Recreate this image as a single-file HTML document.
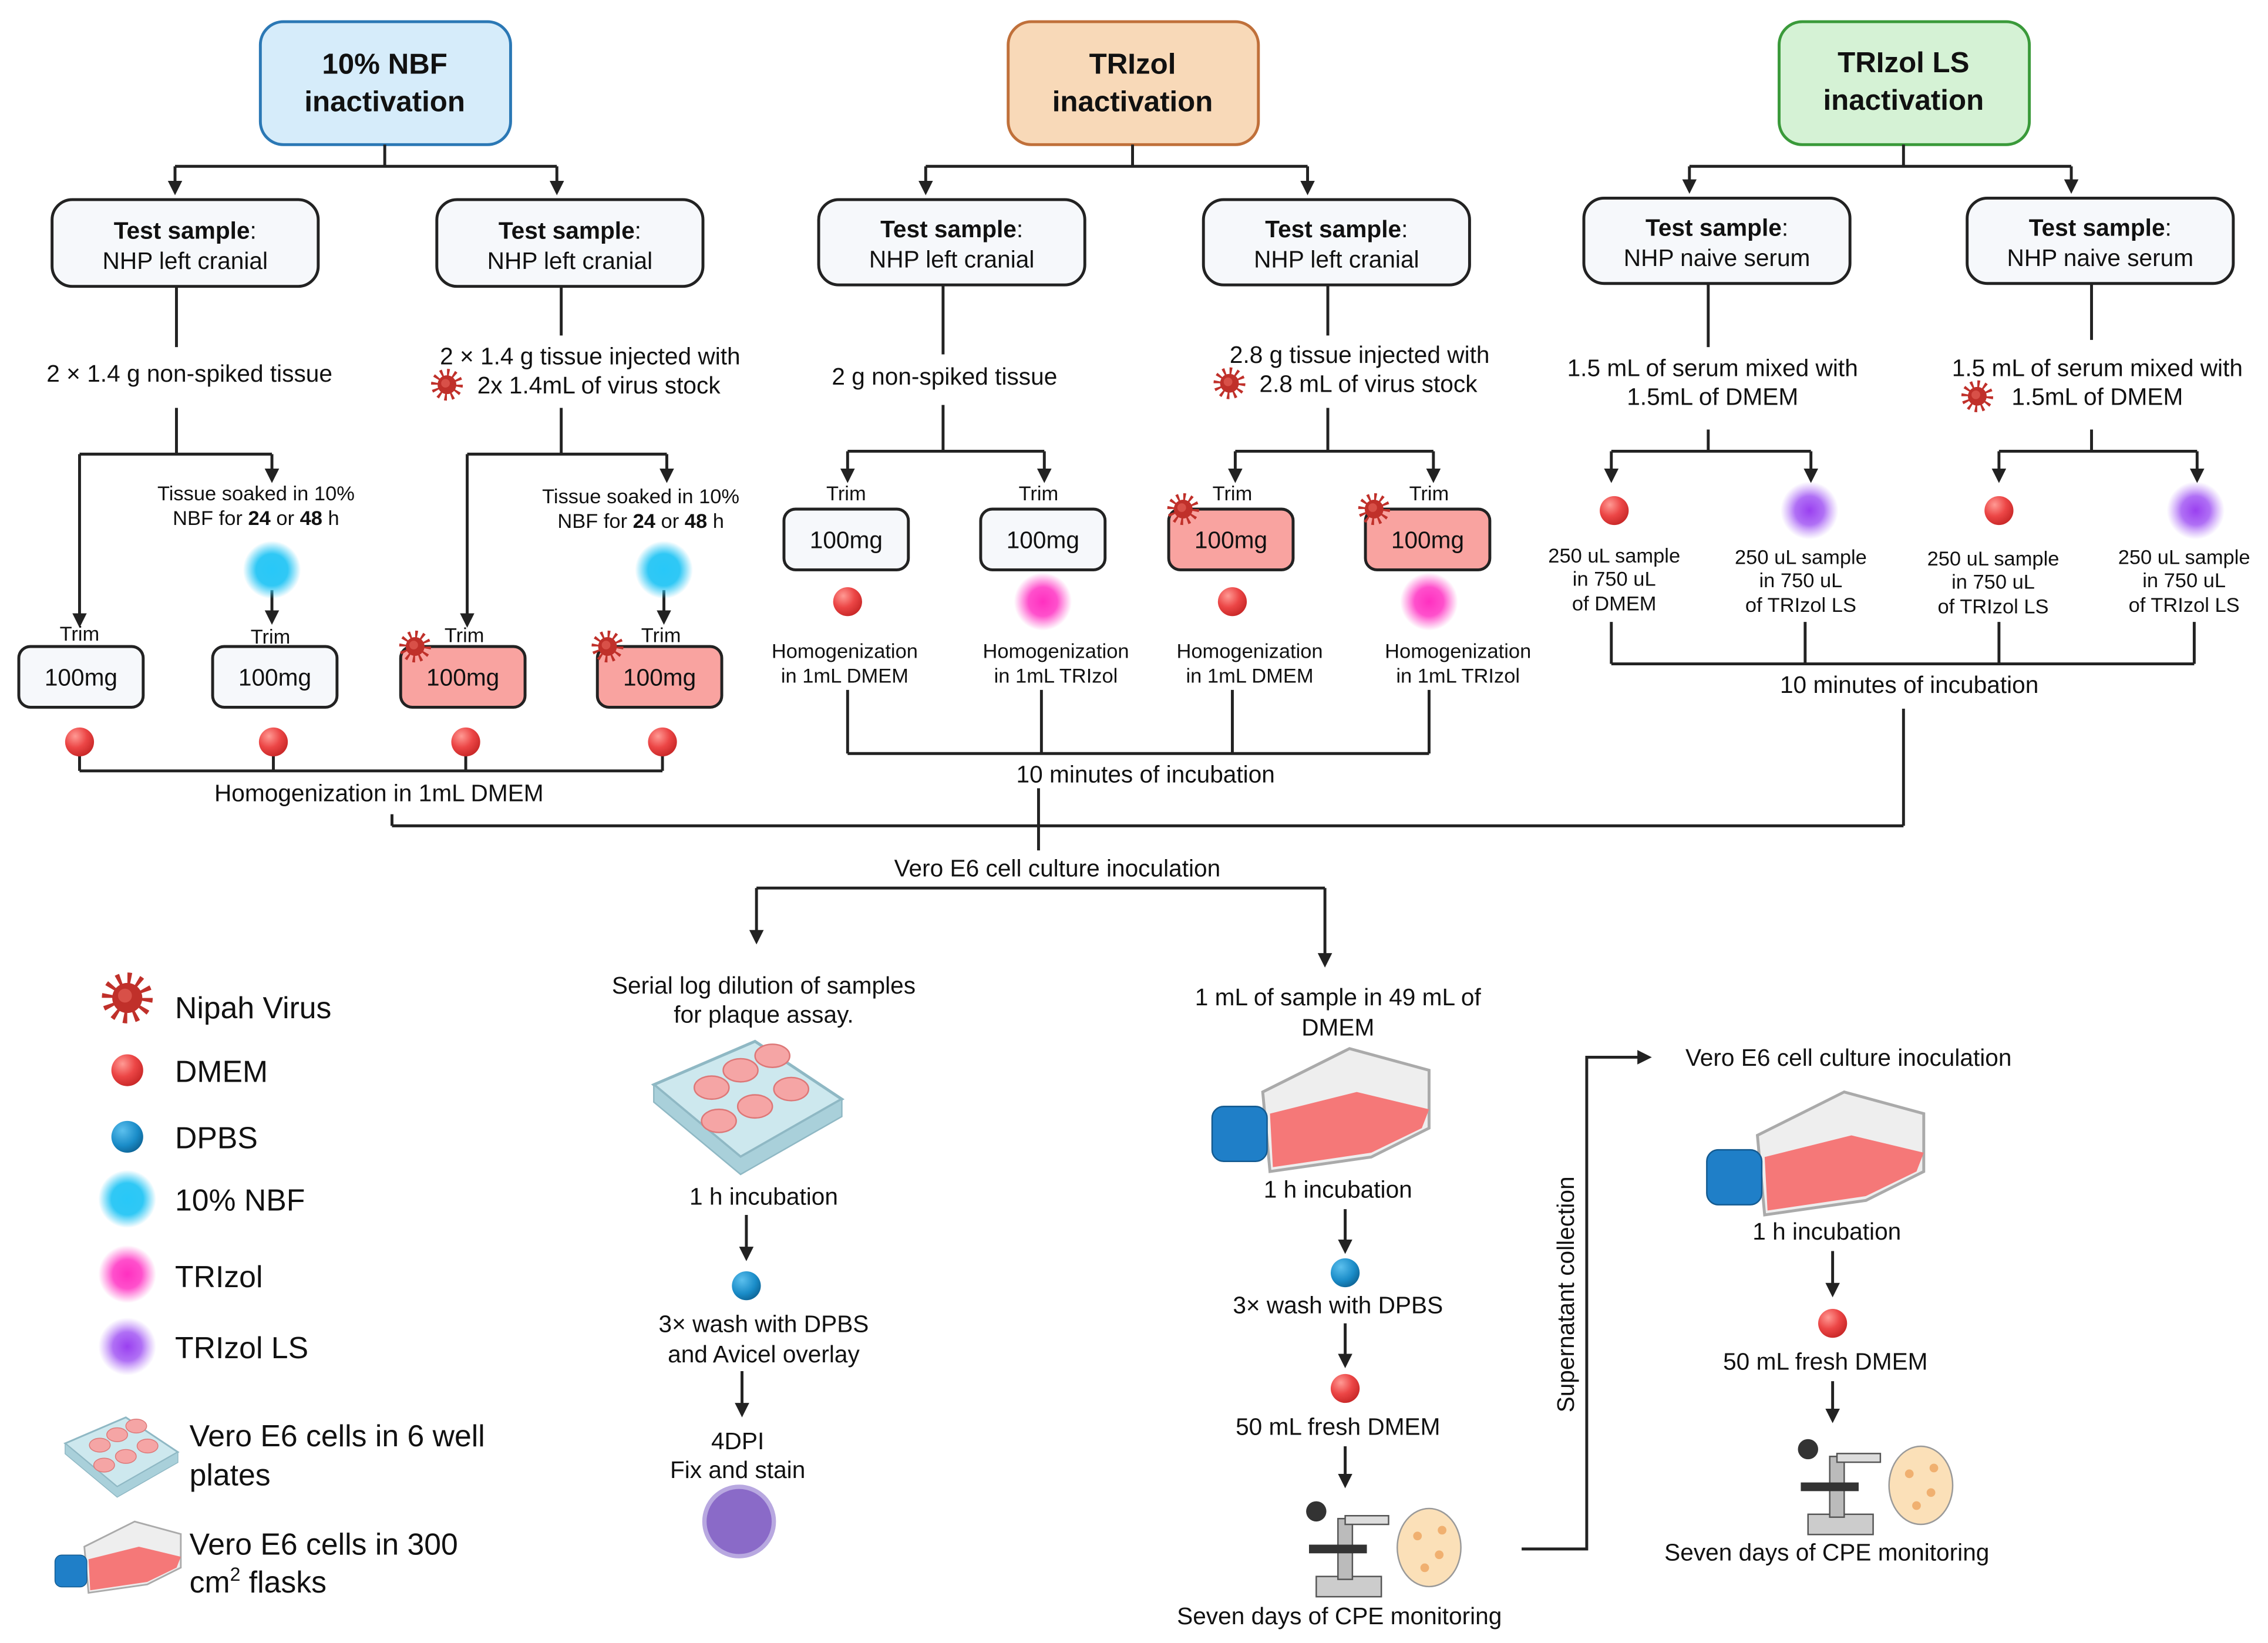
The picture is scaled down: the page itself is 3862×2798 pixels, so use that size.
<!DOCTYPE html>
<html><head><meta charset="utf-8"><style>
html,body{margin:0;padding:0;background:#fff;}
svg{display:block;}
text{font-family:"Liberation Sans",sans-serif;fill:#111;}
</style></head><body>
<svg xmlns="http://www.w3.org/2000/svg" width="3862" height="2798" viewBox="0 0 1568 1136">
<defs>
<radialGradient id="rd" cx="0.35" cy="0.3" r="0.8"><stop offset="0" stop-color="#ff9a94"/><stop offset="0.5" stop-color="#ec4646"/><stop offset="1" stop-color="#c22222"/></radialGradient>
<radialGradient id="bd" cx="0.35" cy="0.3" r="0.8"><stop offset="0" stop-color="#5cc0ee"/><stop offset="0.6" stop-color="#1a8cc8"/><stop offset="1" stop-color="#0c5e8e"/></radialGradient>
<radialGradient id="cy"><stop offset="0" stop-color="#28c8f8"/><stop offset="0.55" stop-color="#30c8f5"/><stop offset="1" stop-color="#30c8f5" stop-opacity="0"/></radialGradient>
<radialGradient id="mg"><stop offset="0" stop-color="#ff30c0"/><stop offset="0.5" stop-color="#ff50cc"/><stop offset="1" stop-color="#ff60d0" stop-opacity="0"/></radialGradient>
<radialGradient id="pu"><stop offset="0" stop-color="#9a40f0"/><stop offset="0.5" stop-color="#b070f5"/><stop offset="1" stop-color="#c090f8" stop-opacity="0"/></radialGradient>
<marker id="ar" markerWidth="10" markerHeight="10" refX="8" refY="5" orient="auto" markerUnits="userSpaceOnUse"><path d="M0,0 L10,5 L0,10 z" fill="#222"/></marker>
<g id="vir"><circle r="8.5" fill="none" stroke="#c0302a" stroke-width="5" stroke-dasharray="1.6 2.85"/><circle r="6.5" fill="#c0302a"/><circle r="3" cx="-1" cy="-1" fill="#d85048"/></g>
<g id="rdot"><circle r="10" fill="url(#rd)"/></g>
<g id="bdot"><circle r="10" fill="url(#bd)"/></g>
<g id="plate"><path d="M0,30 L70,0 L130,40 L60,80 Z" fill="#cde8ee" stroke="#8fb8c4" stroke-width="2"/><path d="M0,30 L0,42 L60,92 L130,52 L130,40 L60,80 Z" fill="#a9d0da" stroke="#8fb8c4"/>
<ellipse cx="40" cy="32" rx="12" ry="8" fill="#f5a5a5" stroke="#d77"/><ellipse cx="60" cy="20" rx="12" ry="8" fill="#f5a5a5" stroke="#d77"/><ellipse cx="82" cy="10" rx="12" ry="8" fill="#f5a5a5" stroke="#d77"/>
<ellipse cx="45" cy="55" rx="12" ry="8" fill="#f5a5a5" stroke="#d77"/><ellipse cx="70" cy="45" rx="12" ry="8" fill="#f5a5a5" stroke="#d77"/><ellipse cx="95" cy="33" rx="12" ry="8" fill="#f5a5a5" stroke="#d77"/></g>
<g id="flask"><path d="M35,30 L95,0 L150,15 L150,55 L110,75 L40,85 Z" fill="#eee" stroke="#aaa" stroke-width="2"/><path d="M40,45 L100,30 L150,42 L145,55 L110,72 L42,82 Z" fill="#f57878"/><rect x="0" y="40" width="38" height="38" rx="8" fill="#1f7fc8" stroke="#135a90"/></g>
<g id="scope"><rect x="10" y="50" width="45" height="14" fill="#ccc" stroke="#555"/><rect x="25" y="10" width="10" height="42" fill="#bbb" stroke="#555"/><rect x="5" y="28" width="40" height="6" fill="#333"/><circle cx="10" cy="5" r="7" fill="#333"/><rect x="30" y="8" width="30" height="6" fill="#ddd" stroke="#555"/><ellipse cx="88" cy="30" rx="22" ry="27" fill="#fbe0b8" stroke="#999"/><circle cx="80" cy="22" r="3" fill="#f0b070"/><circle cx="95" cy="35" r="3" fill="#f0b070"/><circle cx="85" cy="44" r="3" fill="#f0b070"/><circle cx="97" cy="18" r="3" fill="#f0b070"/></g>
</defs>
<g stroke="#222" stroke-width="2" fill="none">
<!-- header boxes -->
<rect x="180" y="15" width="173" height="85" rx="16" fill="#d6ecfa" stroke="#2b78b5"/>
<rect x="697" y="15" width="173" height="85" rx="16" fill="#f8d9b8" stroke="#c0703a"/>
<rect x="1230" y="15" width="173" height="85" rx="16" fill="#d5f2d5" stroke="#3a9a3a"/>
<!-- test sample boxes -->
<rect x="36" y="138" width="184" height="60" rx="14" fill="#f6f8fb"/>
<rect x="302" y="138" width="184" height="60" rx="14" fill="#f6f8fb"/>
<rect x="566" y="138" width="184" height="59" rx="14" fill="#f6f8fb"/>
<rect x="832" y="138" width="184" height="59" rx="14" fill="#f6f8fb"/>
<rect x="1095" y="137" width="184" height="59" rx="14" fill="#f6f8fb"/>
<rect x="1360" y="137" width="184" height="59" rx="14" fill="#f6f8fb"/>
<!-- 100mg boxes -->
<rect x="13" y="447" width="86" height="42" rx="8" fill="#f6f8fb"/>
<rect x="147" y="447" width="86" height="42" rx="8" fill="#f6f8fb"/>
<rect x="277" y="447" width="86" height="42" rx="8" fill="#f9a3a0"/>
<rect x="413" y="447" width="86" height="42" rx="8" fill="#f9a3a0"/>
<rect x="542" y="352" width="86" height="42" rx="8" fill="#f6f8fb"/>
<rect x="678" y="352" width="86" height="42" rx="8" fill="#f6f8fb"/>
<rect x="808" y="352" width="86" height="42" rx="8" fill="#f9a3a0"/>
<rect x="944" y="352" width="86" height="42" rx="8" fill="#f9a3a0"/>
<!-- NBF lines -->
<path d="M266,100 V115 M121,115 H385"/>
<path d="M121,115 V133" marker-end="url(#ar)"/><path d="M385,115 V133" marker-end="url(#ar)"/>
<path d="M122,198 V240 M122,282 V314 M55,314 H188"/>
<path d="M55,314 V432" marker-end="url(#ar)"/><path d="M188,314 V332" marker-end="url(#ar)"/>
<path d="M188,408 V430" marker-end="url(#ar)"/>
<path d="M388,198 V232 M388,282 V314 M323,314 H461"/>
<path d="M323,314 V432" marker-end="url(#ar)"/><path d="M461,314 V332" marker-end="url(#ar)"/>
<path d="M459,408 V430" marker-end="url(#ar)"/>
<path d="M55,520 V533 M189,520 V533 M322,520 V533 M458,520 V533 M55,533 H458"/>
<!-- TRIzol lines -->
<path d="M783,100 V115 M640,115 H904"/>
<path d="M640,115 V133" marker-end="url(#ar)"/><path d="M904,115 V133" marker-end="url(#ar)"/>
<path d="M652,197 V245 M652,280 V312 M586,312 H722"/>
<path d="M586,312 V332" marker-end="url(#ar)"/><path d="M722,312 V332" marker-end="url(#ar)"/>
<path d="M918,197 V232 M918,282 V312 M854,312 H991"/>
<path d="M854,312 V332" marker-end="url(#ar)"/><path d="M991,312 V332" marker-end="url(#ar)"/>
<path d="M586,477 V521 M720,477 V521 M852,477 V521 M988,477 V521 M586,521 H988"/>
<!-- LS lines -->
<path d="M1316,100 V115 M1168,115 H1432"/>
<path d="M1168,115 V132" marker-end="url(#ar)"/><path d="M1432,115 V132" marker-end="url(#ar)"/>
<path d="M1181,196 V240 M1181,297 V312 M1114,312 H1252"/>
<path d="M1114,312 V332" marker-end="url(#ar)"/><path d="M1252,312 V332" marker-end="url(#ar)"/>
<path d="M1446,196 V235 M1446,297 V312 M1382,312 H1519"/>
<path d="M1382,312 V332" marker-end="url(#ar)"/><path d="M1519,312 V332" marker-end="url(#ar)"/>
<path d="M1114,430 V459 M1248,430 V459 M1382,430 V459 M1517,430 V459 M1114,459 H1517"/>
<!-- merge -->
<path d="M1316,490 V571 M271,571 H1316 M271,563 V571 M718,545 V588"/>
<path d="M523,614 H916"/>
<path d="M523,614 V651" marker-end="url(#ar)"/><path d="M916,614 V667" marker-end="url(#ar)"/>
<!-- bottom arrows -->
<path d="M516,840 V870" marker-end="url(#ar)"/>
<path d="M513,948 V978" marker-end="url(#ar)"/>
<path d="M930,836 V865" marker-end="url(#ar)"/>
<path d="M930,915 V944" marker-end="url(#ar)"/>
<path d="M930,1000 V1027" marker-end="url(#ar)"/>
<path d="M1052,1071 H1097 V731 H1140" marker-end="url(#ar)"/>
<path d="M1267,865 V895" marker-end="url(#ar)"/>
<path d="M1267,955 V982" marker-end="url(#ar)"/>
</g>
<!-- symbols -->
<use href="#vir" x="309" y="266"/><use href="#vir" x="850" y="265"/><use href="#vir" x="1367" y="274"/>
<use href="#vir" x="287" y="447"/><use href="#vir" x="420" y="447"/><use href="#vir" x="818" y="352"/><use href="#vir" x="950" y="352"/>
<circle cx="188" cy="394" r="20" fill="url(#cy)"/><circle cx="459" cy="394" r="20" fill="url(#cy)"/>
<use href="#rdot" x="55" y="513"/><use href="#rdot" x="189" y="513"/><use href="#rdot" x="322" y="513"/><use href="#rdot" x="458" y="513"/>
<use href="#rdot" x="586" y="416"/><circle cx="721" cy="416" r="20" fill="url(#mg)"/>
<use href="#rdot" x="852" y="416"/><circle cx="988" cy="416" r="20" fill="url(#mg)"/>
<use href="#rdot" x="1116" y="353"/><circle cx="1251" cy="353" r="20" fill="url(#pu)"/>
<use href="#rdot" x="1382" y="353"/><circle cx="1518" cy="353" r="20" fill="url(#pu)"/>
<use href="#plate" x="452" y="720"/>
<use href="#bdot" x="516" y="889"/>
<circle cx="511" cy="1052" r="24" fill="#8a6ac8" stroke="#b8a8e0" stroke-width="3"/>
<use href="#flask" x="838" y="725"/>
<use href="#bdot" x="930" y="880"/><use href="#rdot" x="930" y="960"/>
<use href="#scope" x="900" y="1040"/>
<use href="#flask" x="1180" y="755"/>
<use href="#rdot" x="1267" y="915"/>
<use href="#scope" x="1240" y="997"/>
<!-- legend -->
<use href="#vir" x="88" y="690" transform="translate(88 690) scale(1.6) translate(-88 -690)"/>
<circle cx="88" cy="740" r="11" fill="url(#rd)"/>
<circle cx="88" cy="786" r="11" fill="url(#bd)"/>
<circle cx="88" cy="829" r="20" fill="url(#cy)"/>
<circle cx="88" cy="881" r="20" fill="url(#mg)"/>
<circle cx="88" cy="931" r="20" fill="url(#pu)"/>
<g transform="translate(45 980) scale(0.6)"><use href="#plate"/></g>
<g transform="translate(38 1052) scale(0.58)"><use href="#flask"/></g>
<!-- text -->
<g font-size="20" font-weight="bold" text-anchor="middle">
<text x="266" y="51">10% NBF</text><text x="266" y="77">inactivation</text>
<text x="783" y="51">TRIzol</text><text x="783" y="77">inactivation</text>
<text x="1316" y="50">TRIzol LS</text><text x="1316" y="76">inactivation</text>
</g>
<g font-size="16.5" text-anchor="middle">
<text x="128" y="165"><tspan font-weight="bold">Test sample</tspan>:</text><text x="128" y="186">NHP left cranial</text>
<text x="394" y="165"><tspan font-weight="bold">Test sample</tspan>:</text><text x="394" y="186">NHP left cranial</text>
<text x="658" y="164"><tspan font-weight="bold">Test sample</tspan>:</text><text x="658" y="185">NHP left cranial</text>
<text x="924" y="164"><tspan font-weight="bold">Test sample</tspan>:</text><text x="924" y="185">NHP left cranial</text>
<text x="1187" y="163"><tspan font-weight="bold">Test sample</tspan>:</text><text x="1187" y="184">NHP naive serum</text>
<text x="1452" y="163"><tspan font-weight="bold">Test sample</tspan>:</text><text x="1452" y="184">NHP naive serum</text>
<text x="131" y="264">2 × 1.4 g non-spiked tissue</text>
<text x="408" y="252">2 × 1.4 g tissue injected with</text><text x="414" y="272">2x 1.4mL of virus stock</text>
<text x="653" y="266">2 g non-spiked tissue</text>
<text x="940" y="251">2.8 g tissue injected with</text><text x="946" y="271">2.8 mL of virus stock</text>
<text x="1184" y="260">1.5 mL of serum mixed with</text><text x="1184" y="280">1.5mL of DMEM</text>
<text x="1450" y="260">1.5 mL of serum mixed with</text><text x="1450" y="280">1.5mL of DMEM</text>
<text x="56" y="474">100mg</text><text x="190" y="474">100mg</text><text x="320" y="474">100mg</text><text x="456" y="474">100mg</text>
<text x="585" y="379">100mg</text><text x="721" y="379">100mg</text><text x="851" y="379">100mg</text><text x="987" y="379">100mg</text>
<text x="262" y="554">Homogenization in 1mL DMEM</text>
<text x="792" y="541">10 minutes of incubation</text>
<text x="1320" y="479">10 minutes of incubation</text>
<text x="731" y="606">Vero E6 cell culture inoculation</text>
<text x="528" y="687">Serial log dilution of samples</text><text x="528" y="707">for plaque assay.</text>
<text x="528" y="833">1 h incubation</text>
<text x="528" y="921">3× wash with DPBS</text><text x="528" y="942">and Avicel overlay</text>
<text x="510" y="1002">4DPI</text><text x="510" y="1022">Fix and stain</text>
<text x="925" y="695">1 mL of sample in 49 mL of</text><text x="925" y="716">DMEM</text>
<text x="925" y="828">1 h incubation</text>
<text x="925" y="908">3× wash with DPBS</text>
<text x="925" y="992">50 mL fresh DMEM</text>
<text x="926" y="1123">Seven days of CPE monitoring</text>
<text x="1278" y="737">Vero E6 cell culture inoculation</text>
<text x="1263" y="857">1 h incubation</text>
<text x="1262" y="947">50 mL fresh DMEM</text>
<text x="1263" y="1079">Seven days of CPE monitoring</text>
<text transform="translate(1088 895) rotate(-90)">Supernatant collection</text>
</g>
<g font-size="14" text-anchor="middle">
<text x="55" y="443">Trim</text><text x="187" y="445">Trim</text><text x="321" y="444">Trim</text><text x="457" y="444">Trim</text>
<text x="585" y="346">Trim</text><text x="718" y="346">Trim</text><text x="852" y="346">Trim</text><text x="988" y="346">Trim</text>
<text x="177" y="346">Tissue soaked in 10%</text><text x="177" y="363">NBF for <tspan font-weight="bold">24</tspan> or <tspan font-weight="bold">48</tspan> h</text>
<text x="443" y="348">Tissue soaked in 10%</text><text x="443" y="365">NBF for <tspan font-weight="bold">24</tspan> or <tspan font-weight="bold">48</tspan> h</text>
<text x="584" y="455">Homogenization</text><text x="584" y="472">in 1mL DMEM</text>
<text x="730" y="455">Homogenization</text><text x="730" y="472">in 1mL TRIzol</text>
<text x="864" y="455">Homogenization</text><text x="864" y="472">in 1mL DMEM</text>
<text x="1008" y="455">Homogenization</text><text x="1008" y="472">in 1mL TRIzol</text>
<text x="1116" y="389">250 uL sample</text><text x="1116" y="405">in 750 uL</text><text x="1116" y="422">of DMEM</text>
<text x="1245" y="390">250 uL sample</text><text x="1245" y="406">in 750 uL</text><text x="1245" y="423">of TRIzol LS</text>
<text x="1378" y="391">250 uL sample</text><text x="1378" y="407">in 750 uL</text><text x="1378" y="424">of TRIzol LS</text>
<text x="1510" y="390">250 uL sample</text><text x="1510" y="406">in 750 uL</text><text x="1510" y="423">of TRIzol LS</text>
</g>
<g font-size="21">
<text x="121" y="704">Nipah Virus</text>
<text x="121" y="748">DMEM</text>
<text x="121" y="794">DPBS</text>
<text x="121" y="837">10% NBF</text>
<text x="121" y="890">TRIzol</text>
<text x="121" y="939">TRIzol LS</text>
<text x="131" y="1000">Vero E6 cells in 6 well</text><text x="131" y="1027">plates</text>
<text x="131" y="1075">Vero E6 cells in 300</text><text x="131" y="1101">cm<tspan font-size="13" dy="-8">2</tspan><tspan dy="8"> flasks</tspan></text>
</g>
</svg>
</body></html>
